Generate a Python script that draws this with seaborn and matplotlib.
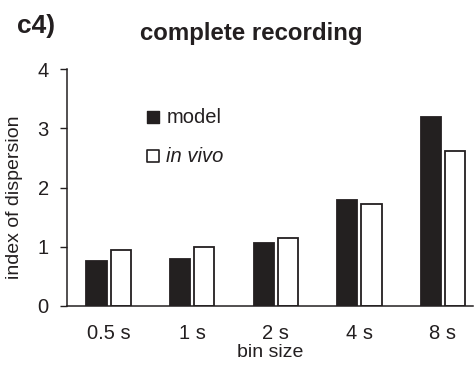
import pandas as pd
import matplotlib
matplotlib.use('Agg')
import matplotlib.pyplot as plt
import seaborn as sns

bins = ['0.5 s', '1 s', '2 s', '4 s', '8 s']
model = [0.76, 0.80, 1.07, 1.79, 3.20]
in_vivo = [0.95, 1.00, 1.15, 1.72, 2.61]

df = pd.DataFrame({
    'bin': bins * 2,
    'value': model + in_vivo,
    'source': ['model'] * len(bins) + ['in vivo'] * len(bins),
})

ink = '#231f20'
sns.set_style('white')
plt.rcParams['font.family'] = ['Liberation Sans', 'DejaVu Sans']

fig = plt.figure(figsize=(4.74, 3.66), dpi=100)
ax = fig.add_axes([0.141, 0.164, 0.857, 0.647])

sns.barplot(data=df, x='bin', y='value', hue='source', order=bins,
            hue_order=['model', 'in vivo'], palette={'model': ink, 'in vivo': 'white'},
            width=0.58, gap=0.17, edgecolor=ink, linewidth=1.3, legend=False, ax=ax)

ax.set_ylim(0, 4)
ax.set_xlim(-0.5, 4.36)
ax.set_yticks([0, 1, 2, 3, 4])
ax.tick_params(axis='y', length=5, width=1, color=ink, labelsize=14.5, labelcolor=ink, pad=8, left=True)
ax.tick_params(axis='x', length=0, labelsize=14.5, labelcolor=ink, pad=13)
sns.despine(ax=ax)
for s in ['left', 'bottom']:
    ax.spines[s].set_color(ink)
    ax.spines[s].set_linewidth(1.1)

ax.set_xlabel('bin size', fontsize=14, color=ink, labelpad=1)
ax.set_ylabel('index of dispersion', fontsize=14, color=ink)
ax.yaxis.set_label_coords(-0.108, 0.46)

# legend drawn by hand to match the small square markers
ax.scatter([0.53], [3.19], marker='s', s=85, color=ink, clip_on=False)
ax.scatter([0.53], [2.53], marker='s', s=75, facecolor='white', edgecolor=ink, linewidth=1.2, clip_on=False)
ax.text(0.69, 3.19, 'model', fontsize=14.5, color=ink, va='center')
ax.text(0.69, 2.53, 'in vivo', fontsize=14.5, color=ink, va='center', style='italic')

fig.text(0.036, 0.929, 'c4)', fontsize=19, fontweight='bold', color=ink, va='center')
fig.text(0.53, 0.908, 'complete recording', fontsize=17.3, fontweight='bold', color=ink,
         va='center', ha='center')

fig.savefig('out.png', dpi=100)
